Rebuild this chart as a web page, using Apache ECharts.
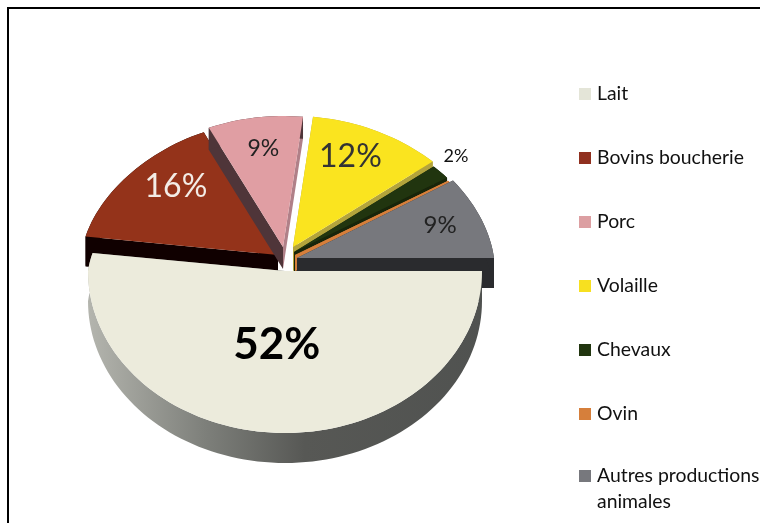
<!DOCTYPE html>
<html><head><meta charset="utf-8">
<style>html,body{margin:0;padding:0;background:#fff}#c{width:760px;height:523px}</style>
<script src="https://cdn.jsdelivr.net/npm/echarts@6/dist/echarts.min.js"></script>
</head><body><div id="c"></div>
<script>
// --- data ---
const categories = ['Lait','Bovins boucherie','Porc','Volaille','Chevaux','Ovin','Autres productions animales'];
const shares = [52.2,16.0,8.6,11.9,1.7,0.4,9.2];
const colors = ['#ecebdc','#94331a','#e09ea3','#fae41f','#21350f','#d67f3b','#77787d'];
const legendColors = ['#e4e5d8','#90301f','#dc9fa2','#f7e020','#21350f','#d67f3b','#77787d'];

// --- layout of the drawn pie ---
const RX = 197, RY_FRONT = 162;
const backRadii = [131,135,131,131,131,131,142];
const tips = [[285,271],[278,255],[283,247],[293,247],[294,252],[295,255],[297,258]];
const depths = [30,30,22,24,20,16,30];
const faceColors = ['#6b6c68','#100000','#4f3539','#b3a43c','#17250a','#d67f3b','#2a2b2e'];
const endFaceColors = ['#6b6c68','#100000','#b08088','#b3a43c','#17250a','#d67f3b','#2a2b2e'];
const labelOffsets = [[0,-23],[-13,-20],[-3,-21],[7,-21],[74,-48],null,[33,-8]];
const labelStyles = [
  {size:44,weight:'bold',color:'#000000'},{size:32,weight:'normal',color:'#f3ece6'},
  {size:23,weight:'normal',color:'#222222'},{size:32,weight:'normal',color:'#333333'},
  {size:18,weight:'normal',color:'#111111'},null,{size:24,weight:'normal',color:'#222222'}];
const drawOrder = [3,4,5,6,1,2,0];

const total = shares.reduce((a,b)=>a+b,0);
const starts = []; let acc = 0;
shares.forEach(v=>{starts.push(acc/total*360); acc+=v;});

function project(i,deg,r){
  const t=deg*Math.PI/180, s=Math.sin(t), c=Math.cos(t);
  const f=1+0.1*Math.min(s,0);
  return [tips[i][0]+RX*r*c*f, tips[i][1]+(s<0?backRadii[i]:RY_FRONT)*r*s];
}
function arcPts(i,a0,a1){
  const n=Math.max(2,Math.ceil((a1-a0)/2)), p=[];
  for(let k=0;k<=n;k++) p.push(project(i,a0+(a1-a0)*k/n,1));
  return p;
}
const down=(p,d)=>[p[0],p[1]+d];
function makeRender(i){
  return function(params,api){
    const a0=starts[i], a1=a0+api.value(0)/total*360, d=depths[i];
    const tip=tips[i], arc=arcPts(i,a0,a1), first=arc[0], last=arc[arc.length-1];
    const ch=[];
    ch.push({type:'polygon',shape:{points:[tip,first,down(first,d),down(tip,d)]},style:{fill:faceColors[i]}});
    ch.push({type:'polygon',shape:{points:[tip,last,down(last,d),down(tip,d)]},style:{fill:endFaceColors[i]}});
    const rim=arc.concat(arc.slice().reverse().map(p=>down(p,d)));
    const rimFill = i===0
      ? {type:'linear',x:0,y:0,x2:1,y2:0,colorStops:[{offset:0,color:'#b4b5ae'},{offset:0.3,color:'#7d7f7a'},{offset:0.55,color:'#575855'},{offset:1,color:'#505250'}]}
      : faceColors[i];
    ch.push({type:'polygon',shape:{points:rim},style:{fill:rimFill}});
    ch.push({type:'polygon',shape:{points:[tip].concat(arc)},style:{fill:colors[i]}});
    const off=labelOffsets[i], ls=labelStyles[i];
    if(off){
      const m=project(i,(a0+a1)/2,0.6);
      ch.push({type:'text',z2:50,x:m[0]+off[0],y:m[1]+off[1],style:{
        text:Math.round(api.value(0))+'%',fill:ls.color,fontSize:ls.size,fontWeight:ls.weight,
        fontFamily:'Lato',align:'center',verticalAlign:'middle'}});
    }
    return {type:'group',children:ch};
  };
}
const series = drawOrder.map((i,k)=>({
  type:'custom',name:categories[i],coordinateSystem:'none',z:k+2,silent:true,
  itemStyle:{color:legendColors[i]},renderItem:makeRender(i),data:[[shares[i]]]
}));
const legendText={color:'#111111',fontFamily:'Lato',fontSize:19.4,lineHeight:26,padding:[0,0,0,1]};
const legendBase={orient:'vertical',icon:'rect',itemWidth:12,itemHeight:12,itemGap:38,left:579,selectedMode:false,padding:0,textStyle:legendText};
const chart=echarts.init(document.getElementById('c'),null,{renderer:'canvas'});
chart.setOption({
  animation:false,backgroundColor:'#ffffff',
  legend:[
    Object.assign({},legendBase,{top:81,data:categories.slice(0,6)}),
    Object.assign({},legendBase,{top:437,data:categories.slice(6),
      formatter:()=>'\nAutres productions\nanimales'})
  ],
  graphic:[{type:'polyline',silent:true,shape:{points:[[8,523],[8,8],[760,8]]},style:{stroke:'#000',lineWidth:2,fill:null}}],
  series
});
</script></body></html>
